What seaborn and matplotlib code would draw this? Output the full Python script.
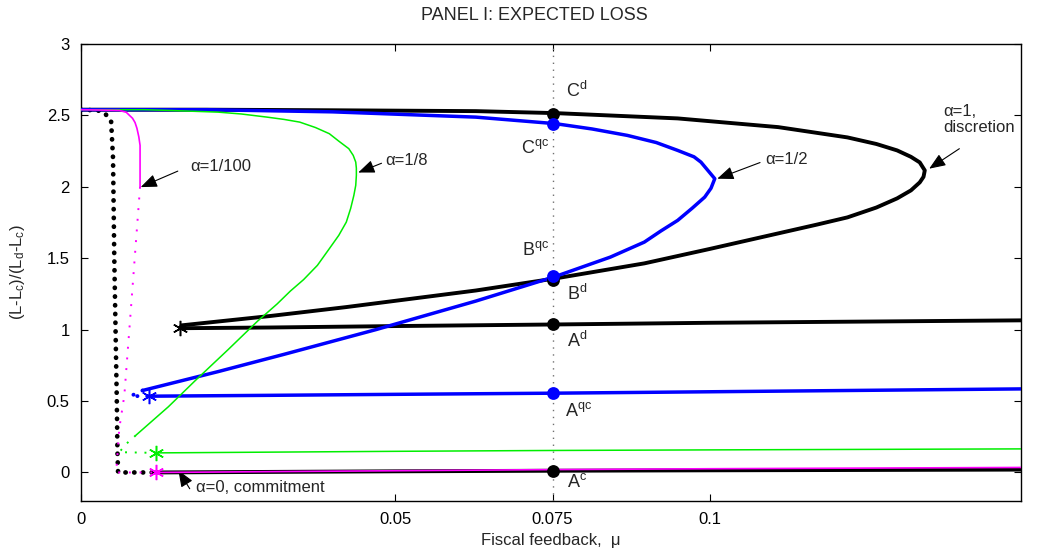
import matplotlib
matplotlib.use("Agg")
import matplotlib.pyplot as plt
import seaborn as sns

# ---------------- data ----------------
# alpha = 1 (discretion), black
disc_upper_x = [0, 0.02, 0.04, 0.0628, 0.0755, 0.0949, 0.1109, 0.1219, 0.1265, 0.1298, 0.1320, 0.1334,
                0.1342, 0.1340, 0.1334, 0.1320, 0.1298, 0.1265, 0.1219, 0.1170, 0.1109, 0.1000,
                0.0896, 0.0755, 0.0628, 0.0422, 0.030, 0.016, 0.0158]
disc_upper_y = [2.54, 2.54, 2.536, 2.53, 2.516, 2.479, 2.418, 2.346, 2.30, 2.255, 2.21, 2.171,
                2.115, 2.07, 2.031, 1.975, 1.919, 1.855, 1.786, 1.735, 1.674, 1.565,
                1.464, 1.359, 1.274, 1.158, 1.095, 1.03, 1.01]
disc_low_x = [0.0158, 0.03, 0.05, 0.075, 0.1, 0.1495]
disc_low_y = [1.01, 1.015, 1.025, 1.036, 1.048, 1.065]

# alpha = 0 (commitment), black
comm_dot_x = [0, 0.0027, 0.0039, 0.0048, 0.0051, 0.0053, 0.0055, 0.0057, 0.0058, 0.0059, 0.0085, 0.0119]
comm_dot_y = [2.54, 2.535, 2.51, 2.455, 2.2, 1.5, 1.0, 0.5, 0.15, 0.0, 0.0, 0.0]
comm_x = [0.0119, 0.05, 0.075, 0.1, 0.1495]
comm_y = [0.0, 0.008, 0.012, 0.015, 0.02]

# alpha = 1/2, blue
half_x = [0, 0.02, 0.04, 0.0628, 0.0755, 0.0813, 0.0869, 0.0915, 0.0949, 0.0975, 0.0986, 0.1008,
          0.1002, 0.0992, 0.0972, 0.0949, 0.0922, 0.0896, 0.0842, 0.0755, 0.0628, 0.0469, 0.0322,
          0.0218, 0.0098]
half_y = [2.54, 2.54, 2.525, 2.488, 2.442, 2.405, 2.36, 2.31, 2.255, 2.21, 2.173, 2.057,
          1.99, 1.928, 1.85, 1.765, 1.69, 1.613, 1.508, 1.373, 1.20, 1.0, 0.826,
          0.706, 0.574]
half_dot_x = [0.0098, 0.0079, 0.0108]
half_dot_y = [0.574, 0.535, 0.534]
half_low_x = [0.0108, 0.03, 0.05, 0.075, 0.1, 0.1495]
half_low_y = [0.534, 0.54, 0.547, 0.555, 0.565, 0.585]

# alpha = 1/8, green
eighth_x = [0, 0.01, 0.01395, 0.0218, 0.0255, 0.0296, 0.0323, 0.0348, 0.0373, 0.0395, 0.0410, 0.0426,
            0.0433, 0.0437, 0.0438, 0.0438, 0.0437, 0.0434, 0.0429, 0.0422, 0.0410, 0.0395, 0.0376,
            0.0354, 0.0333, 0.0312, 0.0281, 0.0234, 0.0181, 0.0139, 0.0087]
eighth_y = [2.54, 2.54, 2.535, 2.523, 2.51, 2.488, 2.472, 2.453, 2.415, 2.372, 2.32, 2.267,
            2.22, 2.173, 2.13, 2.08, 2.01, 1.94, 1.85, 1.753, 1.66, 1.567, 1.45,
            1.35, 1.27, 1.18, 1.06, 0.86, 0.64, 0.46, 0.259]
eighth_dot_x = [0.0087, 0.0072, 0.0061, 0.0119]
eighth_dot_y = [0.259, 0.20, 0.142, 0.137]
eighth_low_x = [0.0119, 0.05, 0.075, 0.1, 0.1495]
eighth_low_y = [0.137, 0.148, 0.154, 0.158, 0.165]

# alpha = 1/100, magenta
hund_x = [0, 0.0061, 0.0072, 0.0082, 0.0086, 0.0089, 0.0092, 0.0094, 0.0094]
hund_y = [2.54, 2.535, 2.522, 2.48, 2.45, 2.41, 2.35, 2.29, 2.0]
hund_dot_x = [0.0094, 0.0087, 0.0079, 0.0069, 0.0061, 0.0056, 0.0119]
hund_dot_y = [2.0, 1.59, 1.12, 0.54, 0.31, 0.0, 0.0]
hund_low_x = [0.0119, 0.05, 0.075, 0.1, 0.1495]
hund_low_y = [0.0, 0.012, 0.02, 0.026, 0.035]

# equilibrium points at mu = 0.075
mu_point = 0.075
black_pts_y = [2.51, 1.35, 1.036, 0.012]
blue_pts_y = [2.442, 1.375, 0.555]

# stars (end of branches)
star_x = [0.0158, 0.0108, 0.0119, 0.0119]
star_y = [1.01, 0.534, 0.137, 0.0]
star_colors = ["black", "#0000ff", "#00ee00", "#ff00ff"]

x_ticks = [0, 0.05, 0.075, 0.1]
x_tick_labels = ["0", "0.05", "0.075", "0.1"]
y_ticks = [0, 0.5, 1, 1.5, 2, 2.5, 3]
y_tick_labels = ["0", "0.5", "1", "1.5", "2", "2.5", "3"]

# ---------------- style ----------------
sns.set_style("ticks")
plt.rcParams["font.family"] = ["Liberation Sans", "DejaVu Sans"]
plt.rcParams["mathtext.fontset"] = "custom"
plt.rcParams["mathtext.rm"] = "Liberation Sans"
plt.rcParams["mathtext.it"] = "Liberation Sans:italic"
plt.rcParams["mathtext.bf"] = "Liberation Sans:bold"

fig = plt.figure(figsize=(10.38, 5.57), dpi=100)
ax = fig.add_axes([0.078, 0.1005, 0.9056, 0.8205])

BLK, BLU, GRN, MAG = "black", "#0000ff", "#00ee00", "#ff00ff"

def line(x, y, **kw):
    sns.lineplot(x=x, y=y, sort=False, estimator=None, ax=ax, **kw)

# vertical reference line
ax.axvline(mu_point, color="#707070", lw=1.0, ls=(0, (1, 4)), zorder=1)

# black
line(comm_dot_x, comm_dot_y, color=BLK, lw=3.4, linestyle=(0, (0.05, 1.8)),
     dash_capstyle="round", zorder=2)
line(disc_upper_x, disc_upper_y, color=BLK, lw=2.8, zorder=3, solid_joinstyle="round")
line(disc_low_x, disc_low_y, color=BLK, lw=2.8, zorder=3)
line(comm_x, comm_y, color=BLK, lw=2.8, zorder=3)

# blue
line(half_x, half_y, color=BLU, lw=2.5, zorder=4, solid_joinstyle="round")
line(half_dot_x, half_dot_y, color=BLU, lw=2.8, linestyle=(0, (0.05, 2.5)),
     dash_capstyle="round", zorder=4)
line(half_low_x, half_low_y, color=BLU, lw=2.5, zorder=4)

# green
line(eighth_x, eighth_y, color=GRN, lw=1.1, zorder=5)
line(eighth_dot_x, eighth_dot_y, color=GRN, lw=1.4, linestyle=(0, (1, 4)), zorder=5)
line(eighth_low_x, eighth_low_y, color=GRN, lw=1.1, zorder=5)

# magenta
line(hund_x, hund_y, color=MAG, lw=1.2, zorder=6)
line(hund_dot_x, hund_dot_y, color=MAG, lw=1.4, linestyle=(0, (1, 4.5)), zorder=6)
line(hund_low_x, hund_low_y, color=MAG, lw=1.2, zorder=6)

# stars
for sx, sy, sc in zip(star_x, star_y, star_colors):
    ax.plot([sx], [sy], marker=(6, 2, 0), ms=11, mew=1.1, color=sc, zorder=7,
            linestyle="none")

# equilibrium points
sns.scatterplot(x=[mu_point] * len(black_pts_y), y=black_pts_y, color=BLK, s=85,
                edgecolor=BLK, linewidth=0, ax=ax, zorder=8)
sns.scatterplot(x=[mu_point] * len(blue_pts_y), y=blue_pts_y, color=BLU, s=85,
                edgecolor=BLU, linewidth=0, ax=ax, zorder=9)

# point labels
fs_lab = 13
ax.text(0.0772, 2.67, r"C$^{\mathrm{d}}$", fontsize=fs_lab, ha="left", va="center")
ax.text(0.0745, 2.27, r"C$^{\mathrm{qc}}$", fontsize=fs_lab, ha="right", va="center")
ax.text(0.0745, 1.56, r"B$^{\mathrm{qc}}$", fontsize=fs_lab, ha="right", va="center")
ax.text(0.0773, 1.25, r"B$^{\mathrm{d}}$", fontsize=fs_lab, ha="left", va="center")
ax.text(0.0773, 0.92, r"A$^{\mathrm{d}}$", fontsize=fs_lab, ha="left", va="center")
ax.text(0.0770, 0.43, r"A$^{\mathrm{qc}}$", fontsize=fs_lab, ha="left", va="center")
ax.text(0.0773, -0.07, r"A$^{\mathrm{c}}$", fontsize=fs_lab, ha="left", va="center")

# annotations
arrow = dict(arrowstyle="-|>,head_length=1.0,head_width=0.4", color="black", lw=0.8,
             shrinkA=0, shrinkB=0)
fs_ann = 12
ax.annotate("", xy=(0.0095, 1.998), xytext=(0.0154, 2.11), arrowprops=arrow)
ax.text(0.0174, 2.14, "α=1/100", fontsize=fs_ann, ha="left", va="center")
ax.annotate("", xy=(0.0441, 2.10), xytext=(0.0478, 2.165), arrowprops=arrow)
ax.text(0.0484, 2.185, "α=1/8", fontsize=fs_ann, ha="left", va="center")
ax.annotate("", xy=(0.1012, 2.057), xytext=(0.1080, 2.17), arrowprops=arrow)
ax.text(0.1088, 2.19, "α=1/2", fontsize=fs_ann, ha="left", va="center")
ax.annotate("", xy=(0.1349, 2.127), xytext=(0.1397, 2.267), arrowprops=arrow)
ax.text(0.1372, 2.47, "α=1,\ndiscretion", fontsize=fs_ann, ha="left", va="center",
        linespacing=1.1)
ax.annotate("", xy=(0.0155, 0.014), xytext=(0.0173, -0.114), arrowprops=arrow)
ax.text(0.0183, -0.105, "α=0, commitment", fontsize=fs_ann, ha="left", va="center")

# axes
ax.set_xlim(0, 0.1495)
ax.set_ylim(-0.2, 3)
ax.set_xticks(x_ticks)
ax.set_xticklabels(x_tick_labels)
ax.set_yticks(y_ticks)
ax.set_yticklabels(y_tick_labels)
ax.tick_params(direction="in", length=5, width=0.8, top=True, right=True,
               labelsize=12, pad=8, colors="black")
for sp in ax.spines.values():
    sp.set_visible(True)
    sp.set_linewidth(1.0)
    sp.set_color("black")

ax.set_xlabel("Fiscal feedback,  μ", fontsize=12, labelpad=4)
ax.set_ylabel(r"(L-L$_{\mathrm{c}}$)/(L$_{\mathrm{d}}$-L$_{\mathrm{c}}$)", fontsize=12, labelpad=14)
fig.text(0.515, 1 - 15 / 557, "PANEL I: EXPECTED LOSS", fontsize=13, ha="center", va="center")

fig.savefig("out.png", dpi=100)
